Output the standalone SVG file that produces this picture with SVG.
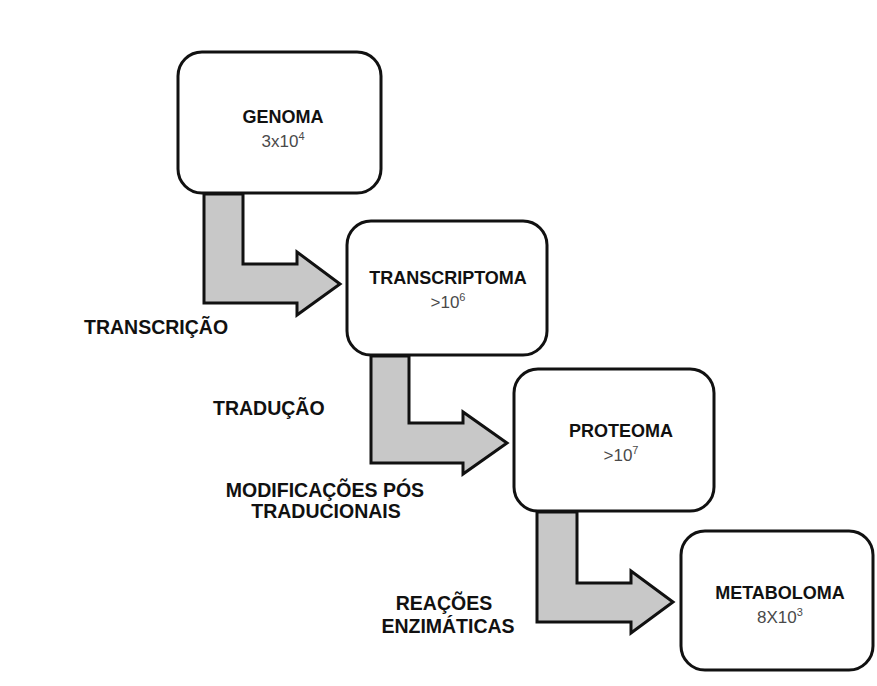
<svg xmlns="http://www.w3.org/2000/svg" width="877" height="686" viewBox="0 0 877 686">
<style>
.box{fill:#fff;stroke:#111;stroke-width:3}
.arr{fill:#c8c8c8;stroke:#111;stroke-width:3;stroke-linejoin:miter}
.t{font-family:"Liberation Sans",Arial,sans-serif;font-weight:bold;font-size:18px;fill:#111;text-anchor:middle}
.v{font-family:"Liberation Sans",Arial,sans-serif;font-size:17px;fill:#4a4a4a;text-anchor:middle}
.l{font-family:"Liberation Sans",Arial,sans-serif;font-weight:bold;font-size:19.5px;fill:#111}
</style>
<rect width="877" height="686" fill="#fff"/>
<g id="connectors">
<path class="arr" d="M204,194 L243,194 L243,264 L297,264 L297,252 L340,284 L297,315 L297,303 L204,303 Z"/>
<path class="arr" d="M371,356 L409,356 L409,423 L463,423 L463,412 L507,443 L463,474 L463,463 L371,463 Z"/>
<path class="arr" d="M537,512 L577,512 L577,583 L631,583 L631,571 L673,602 L631,633 L631,622 L537,622 Z"/>
</g>
<g id="genoma">
<rect class="box" x="178" y="52" width="203" height="141" rx="24"/>
<text class="t" x="283" y="123">GENOMA</text>
<text class="v" x="283" y="147">3x10<tspan font-size="11" dy="-7">4</tspan></text>
</g>
<g id="transcriptoma">
<rect class="box" x="347" y="221" width="200" height="134" rx="24"/>
<text class="t" x="448" y="284">TRANSCRIPTOMA</text>
<text class="v" x="448" y="308">&gt;10<tspan font-size="11" dy="-7">6</tspan></text>
</g>
<g id="proteoma">
<rect class="box" x="514" y="369" width="200" height="142" rx="24"/>
<text class="t" x="621" y="437">PROTEOMA</text>
<text class="v" x="621" y="461">&gt;10<tspan font-size="11" dy="-7">7</tspan></text>
</g>
<g id="metaboloma">
<rect class="box" x="681" y="531" width="192" height="139" rx="24"/>
<text class="t" x="780" y="599">METABOLOMA</text>
<text class="v" x="780" y="623">8X10<tspan font-size="11" dy="-7">3</tspan></text>
</g>
<g id="labels">
<text class="l" x="84" y="334">TRANSCRIÇÃO</text>
<text class="l" x="213" y="415">TRADUÇÃO</text>
<text class="l" x="325" y="497" text-anchor="middle">MODIFICAÇÕES PÓS</text>
<text class="l" x="326" y="518" text-anchor="middle">TRADUCIONAIS</text>
<text class="l" x="444" y="610" text-anchor="middle">REAÇÕES</text>
<text class="l" x="448" y="633" text-anchor="middle">ENZIMÁTICAS</text>
</g>
</svg>
